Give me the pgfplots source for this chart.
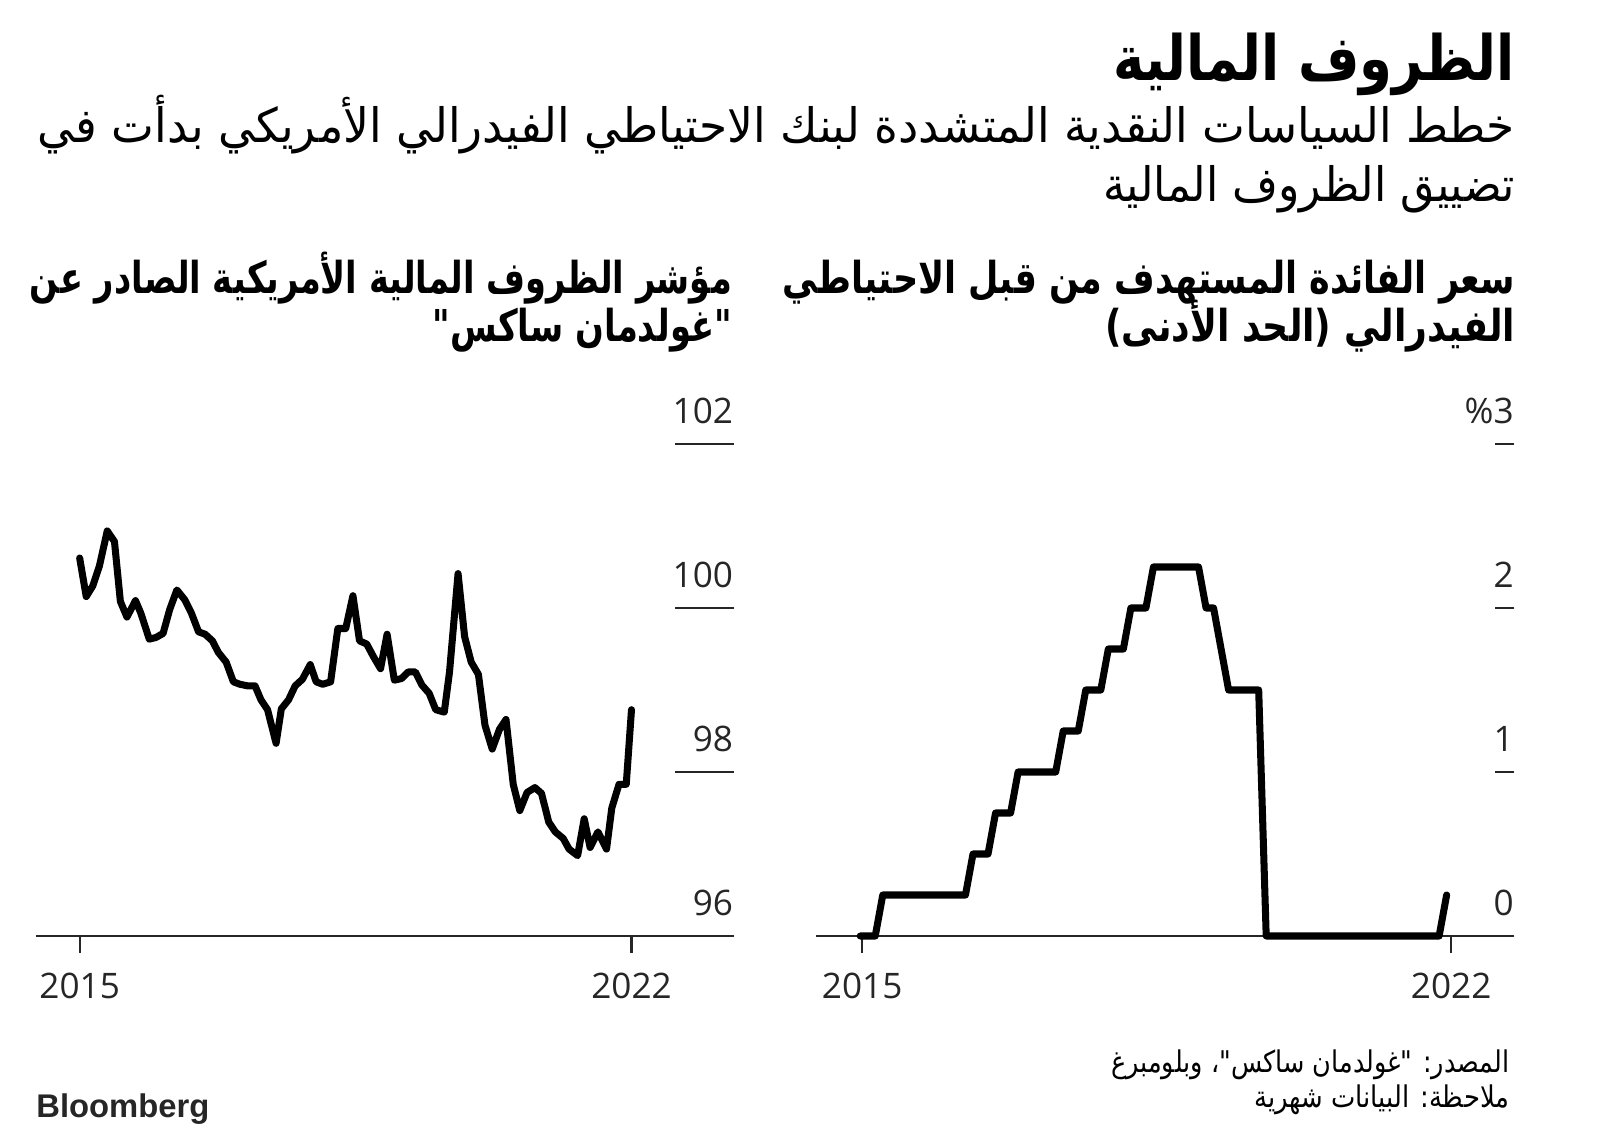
\documentclass[border=0pt]{standalone}
\usepackage{fontspec}
\usepackage{pgfplots}
\pgfplotsset{compat=1.18}
\setmainfont{Open Sans}
\newfontfamily\arabicfont[Script=Arabic]{DejaVu Sans}
\TeXXeTstate=1

% Goldman Sachs US financial conditions index, monthly (months from the 2015 tick)
\pgfplotstableread{
m v
0.0 100.61
1.0 100.14
2.0 100.27
3.0 100.51
4.2 100.94
5.3 100.81
6.2 100.08
7.2 99.89
8.5 100.09
9.3 99.94
10.6 99.62
11.6 99.64
12.7 99.69
13.7 99.98
14.8 100.22
16.0 100.10
17.0 99.94
18.1 99.71
19.1 99.68
20.2 99.60
21.1 99.46
22.3 99.34
23.4 99.10
24.4 99.07
25.6 99.05
26.7 99.05
27.6 98.88
28.6 98.76
29.9 98.35
30.7 98.77
31.8 98.88
32.8 99.05
33.9 99.13
35.1 99.31
36.0 99.10
37.0 99.07
38.2 99.10
39.3 99.75
40.5 99.75
41.6 100.15
42.6 99.60
43.7 99.56
44.7 99.41
45.8 99.26
46.8 99.68
47.9 99.12
49.0 99.14
50.0 99.22
51.1 99.22
52.1 99.06
53.2 98.96
54.2 98.76
55.5 98.73
56.3 99.22
57.6 100.42
58.6 99.65
59.6 99.34
60.7 99.19
61.7 98.57
62.8 98.28
63.9 98.52
64.9 98.64
66.0 97.85
67.0 97.53
68.1 97.75
69.3 97.81
70.3 97.74
71.4 97.39
72.4 97.27
73.6 97.19
74.5 97.06
75.8 96.98
76.8 97.43
77.7 97.08
78.9 97.27
80.2 97.06
81.0 97.56
82.1 97.85
83.2 97.85
84.0 98.76
}\gscfci

% Fed funds target, lower bound, monthly (0 = Oct 2015)
\pgfplotstableread{
m r
-1 0
0 0
1 0
2 0.25
13 0.25
14 0.5
16 0.5
17 0.75
19 0.75
20 1.0
25 1.0
26 1.25
28 1.25
29 1.5
31 1.5
32 1.75
34 1.75
35 2.0
37 2.0
38 2.25
44 2.25
45 2.0
46 2.0
47 1.75
48 1.5
52 1.5
53 0
76 0
77 0.25
}\fedlow

\pgfplotsset{
  panel/.style={
    scale only axis, anchor=south west,
    width=6.98cm, height=4.92cm,
    axis x line*=bottom, axis y line*=right,
    y axis line style={draw=none},
    x axis line style={line width=0.6pt, black!85},
    tick align=inside,
    xtick style={black!85, line width=0.6pt, /pgfplots/major tick length=0.17cm, yshift=-0.17cm},
    ytick style={black!85, line width=0.6pt},
    xticklabel style={anchor=north, inner sep=0pt, yshift=-0.365cm, font=\fontsize{10}{12}\selectfont, text=black!85},
    yticklabel style={anchor=base east, inner sep=0pt, yshift=0.21cm, font=\fontsize{10}{12}\selectfont, text=black!85},
    clip=false,
  },
  dataline/.style={black, line width=2pt, line join=round, line cap=round},
}

% Arabic line stretched to a given width, natural height kept
\newcommand{\artext}[3]{\resizebox{#1}{\height}{\arabicfont#2#3}}

\begin{document}
\begin{tikzpicture}
\useasboundingbox (0,0) rectangle (16,11.4);

% left panel
\begin{axis}[panel, at={(0.357cm,2.04cm)},
  xmin=-6.69, xmax=99.56, ymin=96, ymax=102,
  major tick length=0.59cm,
  xtick={0,84}, xticklabels={2015,2022},
  ytick={96,98,100,102}, yticklabels={96,98,100,102}]
\addplot[dataline] table[x=m, y=v] {\gscfci};
\end{axis}

% right panel
\begin{axis}[panel, at={(8.163cm,2.04cm)},
  xmin=-6.84, xmax=86.0, ymin=0, ymax=3,
  major tick length=0.19cm,
  xtick={-0.74,77.6}, xticklabels={2015,2022},
  ytick={0,1,2,3}, yticklabels={0,1,2,\%3}]
\addplot[dataline] table[x=m, y=r] {\fedlow};
\end{axis}

% titles
\node[anchor=base east, inner sep=0pt] at (15.157,10.594)
  {\artext{4.02cm}{\bfseries\fontsize{17.8}{20}\selectfont}{\beginR الظروف المالية\endR}};
\node[anchor=base east, inner sep=0pt] at (15.157,9.971)
  {\artext{14.77cm}{\fontsize{13.5}{16}\selectfont}{\beginR خطط السياسات النقدية المتشددة لبنك الاحتياطي الفيدرالي الأمريكي بدأت في\endR}};
\node[anchor=base east, inner sep=0pt] at (15.157,9.383)
  {\artext{4.12cm}{\fontsize{13.5}{16}\selectfont}{\beginR تضييق الظروف المالية\endR}};

\node[anchor=base east, inner sep=0pt] at (15.157,8.466)
  {\artext{7.32cm}{\bfseries\fontsize{12.5}{15}\selectfont}{\beginR سعر الفائدة المستهدف من قبل الاحتياطي\endR}};
\node[anchor=base east, inner sep=0pt] at (15.157,7.98)
  {\artext{4.10cm}{\bfseries\fontsize{12.5}{15}\selectfont}{\beginR الفيدرالي (الحد الأدنى)\endR}};

\node[anchor=base east, inner sep=0pt] at (7.327,8.466)
  {\artext{7.02cm}{\bfseries\fontsize{12.5}{15}\selectfont}{\beginR مؤشر الظروف المالية الأمريكية الصادر عن\endR}};
\node[anchor=base east, inner sep=0pt] at (7.327,7.98)
  {\artext{2.99cm}{\bfseries\fontsize{12.5}{15}\selectfont}{\beginR "غولدمان ساكس"\endR}};

% source and note
\node[anchor=base east, inner sep=0pt] at (15.10,0.68)
  {\artext{3.98cm}{\fontsize{8.5}{10}\selectfont}{\beginR المصدر: "غولدمان ساكس"، وبلومبرغ\endR}};
\node[anchor=base east, inner sep=0pt] at (15.10,0.33)
  {\artext{2.55cm}{\fontsize{8.5}{10}\selectfont}{\beginR ملاحظة: البيانات شهرية\endR}};

\node[anchor=base west, inner sep=0pt, text=black!85] at (0.357,0.23)
  {\resizebox{1.73cm}{!}{\fontspec{Liberation Sans}\bfseries Bloomberg}};
\end{tikzpicture}
\end{document}
